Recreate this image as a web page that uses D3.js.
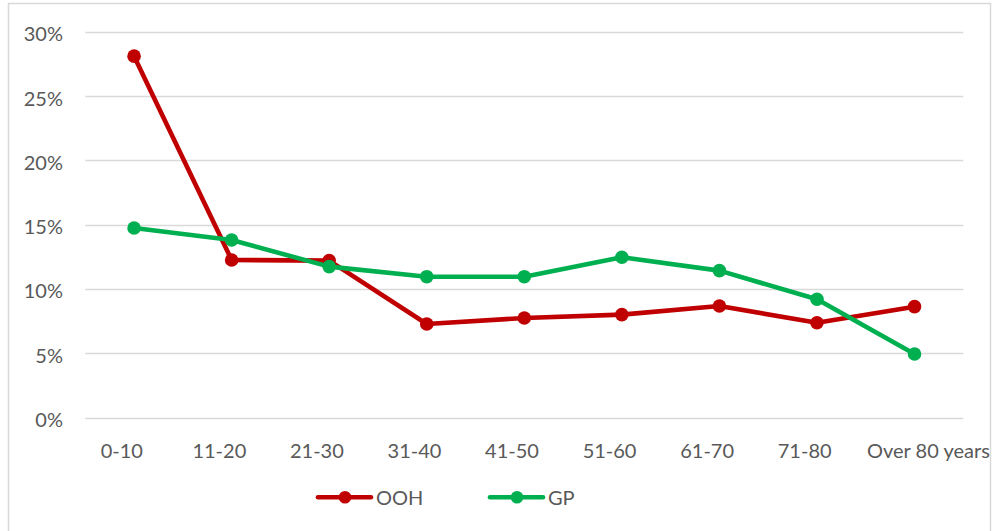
<!DOCTYPE html>
<html><head><meta charset="utf-8">
<script src="https://cdn.jsdelivr.net/npm/d3@7"></script>
<style>
html,body{margin:0;padding:0;background:#fff;}
text{font-family:Lato,"Noto Sans",sans-serif;fill:#595959;}
</style></head>
<body><svg id="c" width="994" height="531"></svg>
<script>
const categories = ["0-10","11-20","21-30","31-40","41-50","51-60","61-70","71-80","Over 80 years"];
const oohValues = [0.281,0.1225,0.122,0.0727,0.0774,0.080,0.0867,0.0737,0.0862];
const gpValues  = [0.1474,0.138,0.1173,0.1095,0.1095,0.1246,0.1142,0.0919,0.0494];
const yTicks = [0,0.05,0.10,0.15,0.20,0.25,0.30];
const seriesNames = ["OOH","GP"];
const seriesColors = ["#C00000","#00B050"];

const svg = d3.select("#c");
svg.append("rect").attr("x",8.5).attr("y",3.5).attr("width",982).attr("height",560)
  .attr("fill","#fff").attr("stroke","#D9D9D9").attr("stroke-width",1.5);

const x = d3.scaleBand().domain(categories).range([85.3,963.3]);
const y = d3.scaleLinear().domain([0,0.30]).range([417.5,31.7]);

svg.append("g").selectAll("line").data(yTicks).join("line")
  .attr("x1",85.3).attr("x2",963.3)
  .attr("y1",d=>Math.round(y(d))+0.5).attr("y2",d=>Math.round(y(d))+0.5)
  .attr("stroke","#D9D9D9").attr("stroke-width",1.5);

const yAxis = d3.axisLeft(y).tickValues(yTicks).tickFormat(d3.format(".0%")).tickSize(0).tickPadding(0);
const gy = svg.append("g").attr("transform","translate(63,0)").call(yAxis);
gy.select(".domain").remove();
gy.selectAll("text").attr("font-size","20px").attr("fill","#595959")
  .attr("font-family","Lato").attr("dy","0.45em");

const xAxis = d3.axisBottom(x).tickSize(0).tickPadding(0);
const gx = svg.append("g").attr("transform","translate(0,443.5)").call(xAxis);
gx.select(".domain").remove();
gx.selectAll(".tick text").attr("font-size","20px").attr("fill","#595959")
  .attr("font-family","Lato").attr("dy","0.73em")
  .attr("dx",(d,i)=> i===categories.length-1 ? -47.5 : -12.3)
  .attr("text-anchor",(d,i)=> i===categories.length-1 ? "start" : "middle");

const cx = d => x(d) + x.bandwidth()/2;
const data = [oohValues, gpValues];
data.forEach((vals,si)=>{
  const pts = categories.map((c,i)=>[cx(c), y(vals[i])]);
  svg.append("path").attr("d", d3.line()(pts)).attr("fill","none")
    .attr("stroke",seriesColors[si]).attr("stroke-width",4.6).attr("stroke-linejoin","round").attr("stroke-linecap","round");
  svg.append("g").selectAll("circle").data(pts).join("circle")
    .attr("cx",d=>d[0]).attr("cy",d=>d[1]).attr("r",6.8).attr("fill",seriesColors[si]);
});

const legendX = [318, 490];
seriesNames.forEach((n,i)=>{
  const g = svg.append("g").attr("transform",`translate(${legendX[i]},497.3)`);
  g.append("line").attr("x1",0).attr("x2",53).attr("y1",0).attr("y2",0)
    .attr("stroke",seriesColors[i]).attr("stroke-width",4.6).attr("stroke-linecap","round");
  g.append("circle").attr("cx",27).attr("cy",0).attr("r",6.3).attr("fill",seriesColors[i]);
  g.append("text").attr("x",58).attr("y",0).attr("dy","0.36em").attr("font-size","20px").text(n);
});
</script></body></html>
